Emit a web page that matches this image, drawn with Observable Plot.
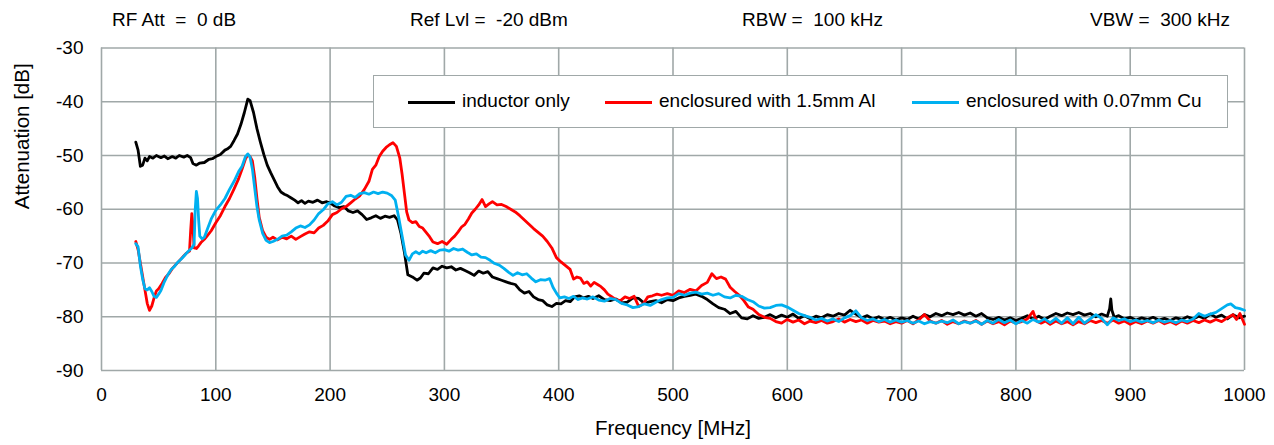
<!DOCTYPE html>
<html>
<head>
<meta charset="utf-8">
<script src="https://cdn.jsdelivr.net/npm/d3@7"></script>
<script src="https://cdn.jsdelivr.net/npm/@observablehq/plot@0.6"></script>
<style>
  body { margin: 0; background: #fff; }
  #wrap { position: relative; width: 1274px; height: 445px; font-family: "Liberation Sans", Arial, sans-serif; color: #000; }
  #header { position: relative; height: 30px; }
  #header span { position: absolute; top: 9px; font-size: 19px; line-height: 22px; white-space: pre; }
  #legend { position: absolute; left: 373px; top: 75px; width: 853px; height: 51px; border: 1px solid #a0a8a8; background: #fff; }
  #legend .item { position: absolute; top: 14px; font-size: 19px; line-height: 22px; white-space: pre; }
  #legend .sw { position: absolute; top: 25px; width: 47px; height: 3px; }
</style>
</head>
<body>
<div id="wrap">
  <div id="header"></div>
  <div id="chart"></div>
  <div id="legend"></div>
</div>
<script>
// ---------- data ----------
const headerTexts = ["RF Att  =  0 dB", "Ref Lvl =  -20 dBm", "RBW =  100 kHz", "VBW =  300 kHz"];
const seriesNames = ["inductor only", "enclosured with 1.5mm Al", "enclosured with 0.07mm Cu"];
const seriesColors = ["#000000", "#ff0000", "#00b0f0"];
const xTicks = [0, 100, 200, 300, 400, 500, 600, 700, 800, 900, 1000];
const yTicks = [-30, -40, -50, -60, -70, -80, -90];

// inductor only: [MHz, dB]
const inductorOnly = [
[30,-47.5],[32,-49],[34,-52],[36,-51.8],[38,-50.5],[40,-51],[42,-50.2],[45,-50.5],[48,-50],[52,-50.4],[55,-50.1],[58,-50.6],[62,-50.2],[65,-50.5],[68,-50],[72,-50.3],[75,-50],[78,-50.4],[80,-51.5],[83,-51.8],[86,-51.4],[90,-51.3],[94,-50.7],[97,-50.6],[100,-50.2],[104,-49.8],[108,-49],[110,-48.8],[113,-48.3],[116,-47.2],[119,-46],[122,-44.2],[125,-42],[128,-39.5],[130,-39.8],[133,-42],[136,-45],[139,-47.5],[142,-49.8],[145,-51.8],[148,-53.2],[151,-54.5],[154,-55.8],[157,-56.8],[160,-57.2],[163,-57.5],[166,-57.9],[169,-58.3],[172,-58.8],[175,-58.4],[178,-58.9],[181,-58.5],[185,-58.7],[189,-58.3],[193,-58.8],[197,-58.6],[200,-58.8],[204,-59.4],[208,-59.7],[212,-59.5],[216,-60.3],[220,-60.6],[224,-60.3],[228,-61],[232,-61.9],[236,-61.6],[240,-61.2],[244,-61.7],[248,-61.3],[252,-61.5],[256,-61.2],[259,-62],[262,-64.5],[265,-68],[268,-72.2],[272,-72.6],[276,-73.2],[279,-72.8],[282,-71.9],[286,-72],[290,-70.9],[294,-71.2],[298,-70.6],[302,-70.9],[306,-70.7],[310,-71.3],[314,-71],[318,-71.4],[322,-71.8],[326,-72.3],[330,-71.5],[334,-71.9],[338,-71.6],[342,-72.6],[346,-72.9],[350,-73.2],[354,-73.5],[358,-73.8],[362,-74],[366,-75],[370,-75.6],[374,-75.3],[378,-76.3],[382,-76.8],[386,-77],[390,-77.8],[394,-78.1],[398,-77.5],[402,-77.6],[406,-77],[410,-77.2],[414,-76.3],[418,-76.1],[422,-76.5],[426,-76.2],[430,-76.6],[435,-76.1],[440,-76.8],[445,-77],[450,-76.7],[455,-77.4],[460,-77.3],[465,-76.5],[470,-76.6],[475,-77.5],[480,-77.2],[485,-77],[490,-77.4],[495,-76.8],[500,-77],[505,-76.5],[510,-76.2],[515,-76],[520,-75.8],[525,-76.2],[530,-76.8],[535,-77.6],[540,-78.3],[545,-78.6],[550,-79.4],[555,-79],[560,-80.2],[565,-80.4],[570,-79.8],[575,-80.3],[580,-80.1],[585,-79.6],[590,-80.2],[595,-79.7],
[600,-80.1],[605,-79.5],[610,-80.3],[615,-79.8],[620,-80.4],[625,-79.9],[630,-80.2],[635,-79.6],[640,-79.9],[645,-79.4],[650,-79.7],[655,-78.8],[660,-79.5],[665,-80.2],[670,-79.8],[675,-80.4],[680,-80],[685,-80.5],[690,-80.1],[695,-80.6],[700,-80.2],[705,-80.5],[710,-79.9],[715,-80.4],[720,-79.6],[725,-80],[730,-79.4],[735,-79.8],[740,-79.3],[745,-79.6],[750,-79.2],[755,-79.7],[760,-79.3],[765,-79.9],[770,-79.4],[775,-80.2],[780,-80.5],[785,-80.1],[790,-80.6],[795,-80.2],[800,-80.7],[805,-80.3],[810,-79.8],[815,-80.4],[820,-79.9],[825,-80.5],[830,-79.9],[835,-79.4],[840,-79.8],[845,-79.3],[850,-79.6],[855,-79.2],[860,-79.7],[865,-79.4],[870,-80],[875,-79.5],[880,-79.9],[882,-78.5],[883,-76.7],[884,-78.8],[886,-80.1],[890,-79.8],[895,-80.4],[900,-80.1],[905,-80.6],[910,-80.2],[915,-80.5],[920,-80.1],[925,-80.6],[930,-80.3],[935,-80.7],[940,-80.2],[945,-80.5],[950,-80],[955,-80.4],[960,-79.9],[965,-80.3],[970,-79.5],[975,-80.1],[980,-79.7],[985,-80.4],[990,-79.6],[995,-80.2],[1000,-79.9]
];

// enclosured with 1.5mm Al: [MHz, dB]
const aluminium = [
[30,-66],[32,-67.5],[34,-70],[36,-72.5],[38,-75],[40,-77.5],[42,-78.8],[44,-78],[46,-76.5],[48,-75.2],[50,-74.8],[53,-73.8],[56,-72.7],[59,-72],[62,-71],[65,-70.3],[68,-69.6],[71,-68.9],[74,-68.2],[77,-67.8],[78,-64],[79,-60.8],[80,-63],[81,-67.2],[83,-67.3],[85,-66.8],[87,-66.2],[90,-65.6],[93,-64.8],[96,-64],[100,-62.5],[104,-61.2],[108,-59.5],[112,-58],[116,-56.2],[120,-54.3],[123,-52.5],[126,-50.6],[128,-49.9],[130,-50.2],[132,-51],[134,-54],[136,-58],[138,-61.5],[141,-64],[144,-65.2],[147,-65.6],[150,-65.2],[154,-65.7],[158,-65.2],[162,-65.5],[166,-65],[170,-65.6],[174,-65.1],[178,-64.6],[182,-64.2],[186,-64.4],[190,-63.5],[194,-63],[198,-62.2],[202,-61],[206,-60.6],[210,-59.9],[214,-59.5],[218,-58.8],[222,-58.1],[226,-57.5],[230,-56.3],[234,-54.8],[237,-52.6],[240,-51.8],[243,-50.2],[246,-49.2],[249,-48.5],[252,-48],[255,-47.6],[258,-48.3],[261,-50.5],[263,-53.5],[265,-57],[267,-60.5],[269,-62],[272,-62.5],[275,-62.3],[278,-63.2],[281,-63.5],[284,-64.3],[287,-65.1],[290,-66.1],[294,-66.4],[298,-66],[302,-66.5],[306,-65.6],[309,-65],[312,-64.2],[315,-63.3],[318,-62.8],[321,-61.8],[324,-60.7],[327,-60],[330,-59.2],[333,-58.2],[336,-59.5],[339,-59],[342,-58.6],[346,-59.2],[350,-59.1],[354,-59.5],[358,-60],[362,-60.5],[366,-61.2],[370,-62],[374,-62.8],[378,-63.6],[382,-64.3],[386,-65],[390,-66],[394,-67.2],[398,-69],[402,-69.8],[406,-70.5],[410,-71.2],[413,-73],[416,-72.6],[419,-72.8],[422,-73.8],[425,-73.5],[428,-74.3],[431,-73.6],[434,-74],[437,-74.4],[440,-75],[443,-75.8],[446,-76.2],[450,-76.8],[454,-77],[458,-76.3],[462,-76.6],[466,-76.2],[470,-78.1],[474,-77.6],[478,-76.3],[482,-76.1],[486,-75.8],[490,-76],[495,-75.7],[500,-76],[505,-75.2],[510,-75.5],[515,-74.9],[520,-75.2],[525,-74.2],[530,-73.6],[534,-72],[538,-72.9],[542,-72.6],[546,-73],[550,-74.5],[554,-75.3],[558,-76],[562,-77],[566,-78.2],[570,-78.6],[575,-79.6],[580,-80.1],[585,-80.3],[590,-80.9],[595,-81.2],
[600,-80.5],[605,-81],[610,-80.6],[615,-81.3],[620,-80.8],[625,-81.1],[630,-80.7],[635,-81.2],[640,-80.9],[645,-80.4],[650,-81],[655,-80.5],[660,-80.9],[665,-80.6],[670,-81.2],[675,-80.7],[680,-81],[685,-80.8],[690,-81.3],[695,-80.9],[700,-81.2],[705,-80.7],[710,-81.3],[715,-80.6],[720,-79.6],[725,-80.8],[730,-81.2],[735,-80.7],[740,-81.4],[745,-80.9],[750,-81.3],[755,-80.8],[760,-81.2],[765,-80.7],[770,-81.4],[775,-80.8],[780,-81.3],[785,-80.9],[790,-81.5],[795,-80.8],[800,-81.2],[805,-80.9],[810,-80.4],[815,-79],[818,-80.8],[822,-81.2],[826,-80.8],[830,-81.4],[835,-80.8],[840,-81.3],[845,-80.9],[850,-81.5],[855,-80.9],[860,-81.3],[865,-80.7],[870,-81.1],[875,-80.7],[880,-81.2],[885,-80.6],[890,-81.2],[895,-80.8],[900,-81.4],[905,-80.9],[910,-81.3],[915,-80.8],[920,-81.2],[925,-80.7],[930,-81.3],[935,-80.9],[940,-81.4],[945,-80.8],[950,-81.2],[955,-80.7],[960,-81.1],[965,-80.6],[970,-81],[975,-80.5],[980,-80.9],[985,-80.2],[990,-79.6],[993,-80.5],[996,-79.4],[1000,-81.4]
];

// enclosured with 0.07mm Cu: [MHz, dB]
const copper = [
[30,-66.4],[32,-67],[34,-70.5],[36,-73],[38,-74.8],[40,-75],[42,-74.6],[44,-75.3],[46,-76.2],[48,-76.4],[50,-75.8],[52,-75.1],[55,-73.5],[58,-72.2],[61,-71.2],[64,-70.6],[67,-69.8],[70,-69.2],[73,-68.5],[76,-67.8],[79,-67.2],[81,-66.5],[82,-60],[83,-56.7],[84,-58],[85,-62],[86,-65],[88,-65.5],[90,-65.2],[93,-63.5],[96,-61.8],[100,-60.2],[104,-59.2],[108,-58],[112,-56.3],[116,-54.8],[120,-53],[123,-52],[126,-50.2],[128,-49.7],[130,-50.3],[132,-52.5],[134,-56],[136,-59.5],[138,-62],[141,-64.5],[144,-65.8],[147,-66.2],[150,-66],[154,-65.6],[158,-65],[162,-64.8],[166,-64.2],[170,-63.5],[174,-63.1],[178,-63.4],[182,-62.9],[186,-62],[190,-60.8],[194,-60.1],[198,-59],[202,-58.6],[206,-59.2],[210,-58.7],[214,-57.6],[218,-57.4],[222,-57.8],[226,-57.1],[230,-56.9],[234,-57.2],[238,-56.8],[242,-57.1],[246,-56.8],[250,-57],[254,-57.5],[257,-58.3],[260,-61.5],[263,-65],[266,-68.5],[269,-69.5],[272,-68.3],[275,-67.9],[278,-68.3],[281,-67.8],[284,-68.1],[288,-67.7],[292,-68.1],[296,-67.6],[300,-67.5],[304,-67.8],[308,-67.3],[312,-67.6],[316,-67.4],[320,-68],[324,-68.5],[328,-68.3],[332,-68.9],[336,-69],[340,-69.5],[344,-70.1],[348,-70.4],[352,-71],[356,-71.7],[360,-72.3],[364,-71.8],[368,-72.2],[372,-72],[376,-72.8],[380,-73.5],[384,-73.1],[388,-73.2],[392,-72.9],[395,-74.5],[398,-75.6],[401,-76.5],[405,-76.3],[409,-76.6],[413,-76.2],[417,-76.8],[421,-76.5],[425,-76.7],[430,-76.3],[435,-76.9],[440,-77.1],[445,-76.6],[450,-76.8],[455,-77.5],[460,-77.8],[465,-78.3],[470,-78.1],[475,-77.6],[480,-77.9],[485,-77.3],[490,-76.8],[495,-76.5],[500,-76.4],[505,-75.7],[510,-76],[515,-75.6],[520,-75.4],[525,-75.8],[530,-75.6],[535,-76],[540,-75.7],[545,-76.3],[550,-76.5],[555,-76],[560,-76.2],[565,-76.8],[570,-77.2],[575,-78],[580,-78.4],[585,-78.3],[590,-77.9],[595,-77.8],[600,-78.2],[605,-78.8],[610,-79.4],[615,-79.8],
[620,-80.1],[625,-80.6],[630,-80.3],[635,-80.8],[640,-80.4],[645,-80.9],[650,-80.2],[655,-79.8],[660,-78.9],[665,-80.2],[670,-80.7],[675,-80.4],[680,-80.9],[685,-80.5],[690,-81],[695,-80.6],[700,-81],[705,-80.7],[710,-81.2],[715,-80.8],[720,-81.3],[725,-80.9],[730,-81.2],[735,-80.8],[740,-81.1],[745,-80.6],[750,-81.3],[755,-80.9],[760,-81.2],[765,-80.8],[770,-81.4],[775,-80.7],[780,-81.2],[785,-80.5],[790,-81.1],[795,-80.6],[800,-81.3],[805,-80.7],[810,-81.2],[815,-80.5],[820,-81],[825,-80.4],[830,-81.1],[835,-80.3],[840,-81.2],[845,-80.2],[850,-81.3],[855,-80.1],[860,-81.2],[865,-80.4],[870,-79.6],[875,-80.3],[880,-81.5],[885,-80.2],[890,-80.7],[895,-80.4],[900,-80.9],[905,-80.6],[910,-81],[915,-80.7],[920,-81.1],[925,-80.6],[930,-81],[935,-80.7],[940,-81.1],[945,-80.6],[950,-80.9],[955,-80.4],[960,-79.4],[965,-79.9],[970,-79.5],[975,-79.2],[980,-78.5],[985,-77.8],[988,-77.6],[992,-78.3],[996,-78.5],[1000,-78.8]
];

// ---------- build ----------
const seriesData = [inductorOnly, aluminium, copper];
const rows = [];
seriesData.forEach((arr, i) => arr.forEach(([f, v]) => rows.push({f, v, s: seriesNames[i]})));

const FONT = `"Liberation Sans", Arial, sans-serif`;
const GRID = "#a0a8a8";

const header = document.getElementById("header");
const headerLeft = [112, 410, 742, 1090];
headerTexts.forEach((t, i) => {
  const s = document.createElement("span");
  s.textContent = t;
  s.style.left = headerLeft[i] + "px";
  header.appendChild(s);
});

const chart = Plot.plot({
  width: 1274,
  height: 415,
  marginLeft: 101,
  marginRight: 30,
  marginTop: 17.5,
  marginBottom: 75,
  style: {fontFamily: FONT, fontSize: "19px", color: "#000", background: "#fff", overflow: "visible"},
  x: {domain: [0, 1000], ticks: xTicks, label: null},
  y: {domain: [-90, -30], ticks: yTicks, label: null},
  color: {domain: seriesNames, range: seriesColors},
  marks: [
    Plot.gridX(xTicks, {stroke: GRID, strokeOpacity: 1, strokeWidth: 1.6}),
    Plot.gridY(yTicks, {stroke: GRID, strokeOpacity: 1, strokeWidth: 1.6}),
    Plot.axisX(xTicks, {tickSize: 0, tickPadding: 17, fontSize: 19, label: null, tickFormat: d => String(d)}),
    Plot.axisY(yTicks, {tickSize: 0, tickPadding: 18, fontSize: 19, label: null, tickFormat: d => String(d)}),
    Plot.line(rows, {x: "f", y: "v", z: "s", stroke: "s", strokeWidth: 2.8, strokeLinejoin: "round"}),
    Plot.text(["Attenuation [dB]"], {frameAnchor: "left", dx: -79, rotate: -90, fontSize: 20.5, text: d => d}),
    Plot.text(["Frequency [MHz]"], {frameAnchor: "bottom", dy: 64, fontSize: 20.5, text: d => d})
  ]
});
document.getElementById("chart").appendChild(chart);

const legend = document.getElementById("legend");
const swLeft = [34, 231, 538];
seriesNames.forEach((n, i) => {
  const sw = document.createElement("div");
  sw.className = "sw";
  sw.style.left = swLeft[i] + "px";
  sw.style.background = seriesColors[i];
  legend.appendChild(sw);
  const t = document.createElement("span");
  t.className = "item";
  t.style.left = (swLeft[i] + 54) + "px";
  t.textContent = n;
  legend.appendChild(t);
});
</script>
</body>
</html>
